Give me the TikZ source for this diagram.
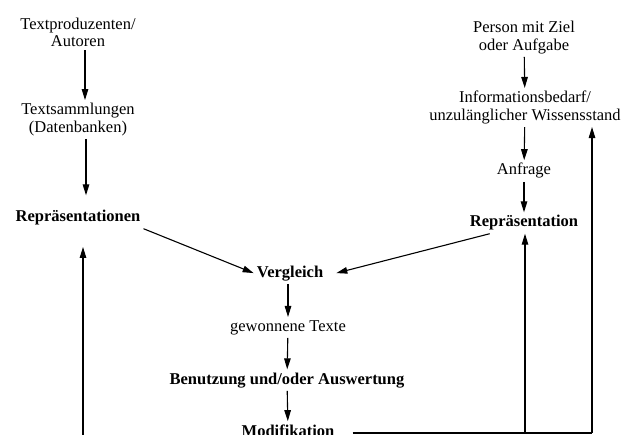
\documentclass[tikz,border=0pt]{standalone}
\usepackage{fontspec}
\setmainfont{Liberation Serif}
\usetikzlibrary{arrows.meta}

\begin{document}
\begin{tikzpicture}[x=1pt,y=-1pt,
    txt/.style={inner sep=3pt,font=\fontsize{16.5}{17.5}\selectfont,align=center},
    fett/.style={txt,font=\fontsize{16.5}{17.5}\selectfont\bfseries},
    pfeil/.style={-{Triangle[length=11pt,width=6.5pt]},line width=1.1pt}]
  \useasboundingbox (0,0) rectangle (628,435);
  \clip (0,0) rectangle (628,435);
  % Linke Spalte
  \node[txt] (prod) at (78,32.5) {Textproduzenten/\\Autoren};
  \node[txt] (samml) at (78,119.5) {Textsammlungen\\(Datenbanken)};
  \node[fett,anchor=base] (repL) at (78,222) {Repräsentationen};
  % Rechte Spalte
  \node[txt] (person) at (524,37.5) {Person mit Ziel\\oder Aufgabe};
  \node[txt] (info) at (525,107.5) {Informationsbedarf/\\unzulänglicher Wissensstand};
  \node[txt,anchor=base] (anfrage) at (524,175) {Anfrage};
  \node[fett,anchor=base] (repR) at (524,227) {Repräsentation};
  % Mitte
  \node[fett,anchor=base] (verg) at (290,277) {Vergleich};
  \node[txt,anchor=base] (gew) at (288,331) {gewonnene Texte};
  \node[fett,anchor=base] (benu) at (287,384) {Benutzung und/oder Auswertung};
  \node[fett,anchor=base] (modi) at (288,436) {Modifikation};
  % Pfeile
  \draw[pfeil] ([xshift=7pt]prod.south) -- ([xshift=7pt]samml.north);
  \draw[pfeil] ([xshift=8pt]samml.south) -- ([xshift=8pt,yshift=12pt]repL.north);
  \draw[pfeil] (person) -- (info);
  \draw[pfeil] (info) -- (anfrage);
  \draw[pfeil] (anfrage) -- (repR);
  \draw[pfeil] (repL.south east) -- (verg.west);
  \draw[pfeil] ([xshift=23pt]repR.south west) -- ([xshift=10pt]verg.east);
  \draw[pfeil] ([xshift=-2pt]verg.south) -- (gew);
  \draw[pfeil] (gew) -- (benu);
  \draw[pfeil] (benu) -- (modi);
  % Rueckkopplung
  \coordinate (fbR) at (592,433);
  \coordinate (fbM) at (525,433);
  \coordinate (fbLu) at (83,440);
  \coordinate (fbLo) at (83,247);
  \draw[line width=1.1pt] ([xshift=15pt]modi.east |- fbR) -- (fbR);
  \draw[pfeil] (fbR) -- (fbR |- info.south);
  \draw[pfeil] (fbM) -- (fbM |- repR.south);
  \draw[pfeil] (fbLu) -- (fbLo);
\end{tikzpicture}
\end{document}
